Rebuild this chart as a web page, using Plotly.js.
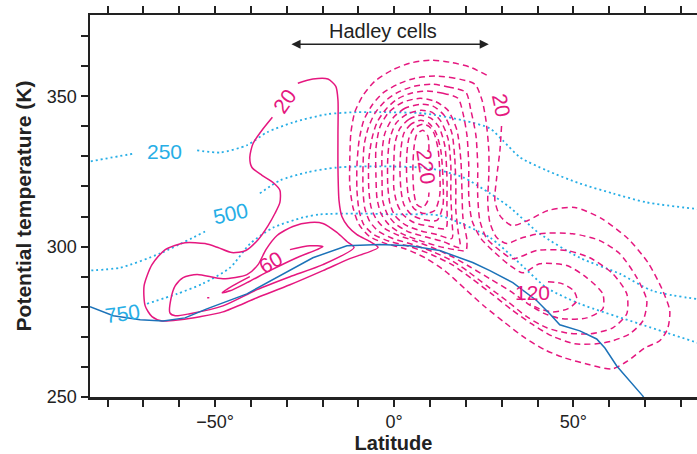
<!DOCTYPE html>
<html><head><meta charset="utf-8">
<script src="https://cdn.plot.ly/plotly-3.0.1.min.js"></script>
<style>html,body{margin:0;padding:0;background:#fff}</style>
</head><body><div id="chart" style="width:697px;height:454px"></div>
<script>
// ---- data: [latitude (deg), potential temperature (K)] ----
const surface = [[-84.9,280],[-82.1,278.7],[-78.4,277],[-70.9,275.7],[-64.5,275.3],[-58.4,276.3],[-52.3,279.3],[-41.1,284.3],[-31.9,290.3],[-22.7,296.3],[-13.2,300.3],[-4.0,300.7],[4.4,300.3],[12.7,298.7],[21.9,294.7],[26.7,292],[33.1,288],[39.8,282],[43.4,277.7],[46.2,274],[51.8,272],[56.5,269.3],[58.8,266.3],[62.1,260.3],[69.4,250.3],[70.5,248]];

const p250a = [[-86,328],[-84.9,328.3],[-72.3,331]];
const p250b = [[-55,332],[-48.6,331.3],[-41.1,333.7],[-35.5,338],[-28.2,341.3],[-18.8,344],[-10.4,344.7],[-4,344.7],[8,344.3],[19.2,342],[26.7,339.3],[30.3,335.3],[35.1,329.7],[42.6,325.3],[51.8,321],[61,317.7],[70.5,314.7],[86,312.3]];
const p500a = [[-86,292],[-76.5,293],[-65.4,297.7],[-52.8,305]];
const p500b = [[-37.5,317.7],[-31.9,322],[-24.3,324.7],[-16,326.3],[-4,326.7],[10,326],[19.2,323],[26.7,317.7],[32.3,313],[40.6,304.3],[51.8,296.3],[62.9,291],[72.1,285.3],[86,282.3]];
const p750 = [[-69,281],[-60.6,284.3],[-53.4,287.7],[-45.8,293],[-40.2,301],[-33.8,306.3],[-25.4,309.7],[-20.7,310.7],[-9.6,311],[0.8,310.7],[12.7,310.3],[26.7,303],[34.2,295.3],[42.6,286.3],[51.8,281],[68.5,274.3],[86,267.5]];

// positive (solid) streamfunction contours
const psiS20 = [[-34.0,343],[-36.9,338.7],[-39.4,334.3],[-40.3,329.7],[-39.7,326.3],[-36.9,323.7],[-33.8,321.3],[-31.9,318.7],[-31.9,314.7],[-33.3,311],[-35.2,307],[-38.0,302.3],[-41.4,298.7],[-45.3,298],[-49.2,299.7],[-52.8,301],[-58.4,301.3],[-63.9,299],[-67.6,294],[-69.8,287],[-69.5,280.3],[-67.6,276.7],[-64.8,275.3],[-59.8,275.7],[-54.2,276.7],[-47.8,278.3],[-38.3,283],[-29.1,287.3],[-19.9,292],[-12.4,296],[-4.5,299.7],[-6.8,301.7],[-10.4,304],[-12.9,306.7],[-14.6,310],[-15.4,315.3],[-15.7,326.3],[-15.7,337.7],[-15.7,348.7],[-16.3,353.3],[-18.5,355.7],[-22.7,355.7],[-26.9,354.3]];
const psiS40 = [[-62.6,278],[-62.3,282.7],[-61.1,287],[-58.9,289.7],[-55.0,290.7],[-47.8,289.3],[-41.1,290.7],[-38.0,294],[-35.8,299],[-32.7,303.7],[-28.3,306.7],[-23.5,308],[-19.9,307.7],[-16.0,304.7],[-13.2,301.7],[-11.2,299.7],[-19.9,294],[-29.1,290],[-38.3,285.7],[-47.8,280.3],[-57.0,277.7],[-61.1,277],[-62.6,278]];
const psiS60 = [[-29.1,299],[-23.5,300.3],[-19.9,300],[-21.6,299],[-27.2,296.3],[-34.7,292],[-41.1,288],[-45.8,285.3],[-48.0,284.7],[-45.0,287],[-40.3,290]];
const psiSdot = [[-52.2,283],[-51.6,283]];

// negative (dashed) streamfunction contours
const psiN20 = [[25.8,357],[21.1,359.7],[15.5,361.3],[10.0,362],[4.4,361],[-0.6,358.7],[-5.4,355],[-8.7,350.3],[-11.0,344.7],[-12.1,337.7],[-12.4,328.7],[-12.4,320.3],[-11.5,313],[-9.8,307.3],[-6.8,303.3],[-2.3,301],[3.0,299.3],[8.6,296.3],[14.1,292],[19.7,286],[25.3,280],[30.9,274.7],[36.4,269.7],[42.0,265.7],[47.6,263],[54.6,260.7],[60.7,259.3],[65.2,262],[69.9,266.3],[74.1,268.7],[76.3,272.7],[76.9,278.7],[74.7,286],[70.8,294.7],[65.2,302.7],[57.9,309.3],[50.4,313],[42.9,312],[37.3,308.7],[32.8,307],[29.5,310.3],[28.1,315.3],[28.6,323],[29.5,332],[30.0,341]];
const psiN40 = [[22.5,354],[16.9,356],[11.4,356.7],[5.8,356],[1.0,354],[-3.2,351],[-6.2,347],[-8.5,342],[-9.8,335.3],[-10.4,327],[-10.4,318.7],[-9.8,312],[-8.5,307.3],[-5.7,304],[-1.2,301.7],[4.4,300],[10.5,297.3],[16.1,294],[21.7,289.3],[27.2,284.3],[32.8,279],[38.4,274.3],[44.0,270.3],[50.4,267.7],[56.5,267.7],[61.0,268.7],[65.7,271],[69.4,275.3],[70.5,282],[67.7,289.7],[62.9,297.7],[57.4,302],[49.8,304.3],[40.6,304.3],[35.1,302.7],[31.4,301],[28.6,303],[26.7,308],[26.1,315.3],[26.4,323.7],[26.4,332],[25.6,342],[24.5,348.7],[22.5,354]];
const psiN60 = [[20.0,351.3],[15.5,353],[10.5,354],[5.5,353.3],[1.0,351.3],[-2.6,348.3],[-5.4,344.3],[-7.3,339.3],[-8.4,333.7],[-8.7,327],[-8.7,318.7],[-8.2,312.7],[-6.8,308.3],[-4.3,305],[-0.4,302.7],[5.2,300.7],[10.8,298.3],[15.5,295.7],[20.3,292],[25.8,287],[31.4,282],[37.0,276.7],[42.6,273],[48.2,271.3],[54.6,271],[61.0,273],[64.9,277.7],[64.9,284.3],[61.0,291],[54.6,296.3],[48.2,298.7],[39.8,298.7],[33.1,296],[29.5,298.7],[25.8,302.7],[23.9,308.7],[23.3,317],[23.3,327],[22.8,337],[21.4,345.3],[20.0,351.3]];
const psiN80 = [[17.8,349.3],[13.6,351],[9.1,351.7],[4.7,351],[0.8,349],[-2.3,345.7],[-4.8,341.3],[-6.2,336],[-7.1,328.7],[-7.1,319.3],[-6.5,313.3],[-5.1,309.3],[-2.6,306],[1.3,303.7],[6.1,301.7],[11.4,299.3],[16.1,296.7],[21.1,293.3],[26.7,289.3],[32.3,285.3],[37.3,281],[42.0,277.7],[47.0,276],[53.7,276.3],[58.2,279.3],[58.2,284.3],[53.7,289.7],[48.2,293.7],[40.6,294.3],[35.9,291.3],[32.3,293.7],[28.1,298],[24.2,302.7],[21.7,308.7],[20.8,317],[20.8,327],[20.3,337],[19.2,344.3],[17.8,349.3]];
const psiN100 = [[7.2,349.3],[2.4,348],[-1.5,344.7],[-4.0,339.7],[-5.1,332.7],[-5.1,323.7],[-4.8,316],[-3.7,311],[-1.5,307.3],[2.1,304.3],[7.2,302],[12.7,300],[16.9,299],[20.0,298.7],[20.3,302],[19.2,309.3],[18.9,318.7],[18.6,328.7],[17.5,338.7],[15.0,345.3],[11.4,348.3],[7.2,349.3]];
const psiN120 = [[7.4,347.3],[3.0,346],[-0.4,342.7],[-2.6,337.7],[-3.4,331.3],[-3.4,322.7],[-3.2,315.3],[-2.0,311],[0.2,307.7],[3.8,305],[8.6,303.3],[13.6,301.7],[18.3,299.7],[17.8,305.3],[17.2,312],[17.2,320.3],[16.9,329.3],[16.1,337.7],[13.9,343.7],[10.8,346.7],[7.4,347.3]];
const psiN140 = [[7.4,345.3],[3.5,344],[0.5,341],[-1.2,336],[-1.8,329.3],[-1.8,320.3],[-1.2,314.3],[0.2,310.3],[3.0,307.3],[7.2,305.3],[11.9,304],[16.1,302.7],[16.1,308.7],[15.8,317],[15.8,327],[15.0,336],[13.0,341.7],[10.5,344.7],[7.4,345.3]];
const psiN160 = [[7.4,343.7],[4.1,342.3],[1.6,339.3],[0.2,334.3],[-0.1,327.7],[-0.1,319.3],[0.8,314.3],[2.4,310.7],[5.5,308],[10.0,306.7],[14.4,306],[14.7,313.7],[14.7,323.7],[14.1,333.7],[12.5,339.7],[10.2,342.7],[7.4,343.7]];
const psiN180 = [[7.4,342],[4.7,340.7],[2.7,337.7],[1.9,332.7],[1.6,326],[1.9,318.7],[2.7,314],[4.7,310.7],[8.0,309],[11.9,308.7],[13.6,313.7],[13.6,322.7],[13.0,332],[11.6,338],[9.7,341],[7.4,342]];
const psiN200 = [[8.0,340.7],[5.5,339.3],[4.1,336],[3.5,330.3],[3.5,322],[4.1,316],[5.5,312.7],[8.3,311],[11.3,312],[12.7,317],[12.7,325.3],[12.2,332.7],[11.1,337.7],[9.7,340],[8.0,340.7]];
const psiN220 = [[9.7,332],[9.4,336.7],[8.0,338.7],[6.3,337.3],[5.5,332.7],[5.2,325.3],[5.5,318],[6.3,314],[8.0,313],[9.4,315.3],[9.7,318]];
const psiR120 = [[42.9,288.3],[46.8,287.7],[50.1,285.3],[51.0,282],[48.4,279.3],[44.3,278.3],[40.6,279.3],[37.8,281]];

const xTickVals = [-80,-70,-60,-50,-40,-30,-20,-10,0,10,20,30,40,50,60,70,80];
const xTickText = ['','','','\u221250\u00b0','','','','','0\u00b0','','','','','50\u00b0','','',''];
const yTickVals = [250,260,270,280,290,300,310,320,330,340,350,360,370];
const yTickText = ['250','','','','','300','','','','','350','',''];

// ---- styling ----
const MAG = '#e5177f', CYAN = '#27aee6', BLUE = '#1c72b8', INK = '#222222';
const FONT = 'Liberation Sans, Arial, Helvetica, sans-serif';

function tr(pts, color, dash, width, shape){
  return {x: pts.map(p=>p[0]), y: pts.map(p=>p[1]), mode:'lines', hoverinfo:'skip',
    line:{color:color, width:width, dash:dash, shape:shape||'spline', smoothing:0.7}};
}
const traces = [];
[p250a,p250b,p500a,p500b,p750].forEach(p=>traces.push(tr(p, CYAN, '2px,3px', 1.8)));
[psiN20,psiN40,psiN60,psiN80,psiN100,psiN120,psiN140,psiN160,psiN180,psiN200,psiN220,psiR120]
  .forEach(p=>traces.push(tr(p, MAG, '6px,4px', 1.5)));
[psiS20,psiS40,psiS60,psiSdot].forEach(p=>traces.push(tr(p, MAG, 'solid', 1.5)));
traces.push(tr(surface, BLUE, 'solid', 1.5, 'linear'));

function lab(x,y,text,color,angle,size){
  return {x:x,y:y,xref:'x',yref:'y',text:text,showarrow:false,textangle:angle||0,
    font:{family:FONT,size:size||21,color:color}};
}
const annotations = [
  {x:26.4,y:367.3,ax:-29.1,ay:367.3,xref:'x',yref:'y',axref:'x',ayref:'y',text:'',
   showarrow:true,arrowhead:2,arrowside:'end+start',arrowsize:1.3,arrowwidth:1.4,arrowcolor:INK,standoff:0,startstandoff:0},
  lab(-3.2,371.8,'Hadley cells',INK,0,20),
  lab(-30.7,348.3,'20',MAG,-55),
  lab(30.0,347,'20',MAG,78),
  lab(8.8,326.5,'220',MAG,82),
  lab(-34.6,294.7,'60',MAG,-30),
  lab(38.7,284.7,'120',MAG,0),
  lab(-64.0,331.7,'250',CYAN,0),
  lab(-45.8,311,'500',CYAN,-12),
  lab(-75.9,277.7,'750',CYAN,-8)
];

const layout = {
  width:697, height:454, margin:{l:90,r:0,t:15,b:57},
  paper_bgcolor:'#fff', plot_bgcolor:'#fff', showlegend:false,
  font:{family:FONT,color:INK},
  xaxis:{range:[-84.9,84.5], tickmode:'array', tickvals:xTickVals, ticktext:xTickText,
    ticks:'outside', ticklen:7, tickwidth:2, tickcolor:INK, showline:true, linewidth:2.5, linecolor:INK,
    mirror:'ticks', showgrid:false, zeroline:false, tickfont:{size:18,color:INK},
    title:{text:'<b>Latitude</b>', font:{size:20,color:INK}, standoff:7}},
  yaxis:{range:[250,377], tickmode:'array', tickvals:yTickVals, ticktext:yTickText,
    ticks:'outside', ticklen:7, tickwidth:2, tickcolor:INK, showline:true, linewidth:2.5, linecolor:INK,
    showgrid:false, zeroline:false, tickfont:{size:18,color:INK},
    title:{text:'<b>Potential temperature (K)</b>', font:{size:21,color:INK}, standoff:10}},
  annotations: annotations
};
Plotly.newPlot('chart', traces, layout, {staticPlot:true, displayModeBar:false});
</script></body></html>
